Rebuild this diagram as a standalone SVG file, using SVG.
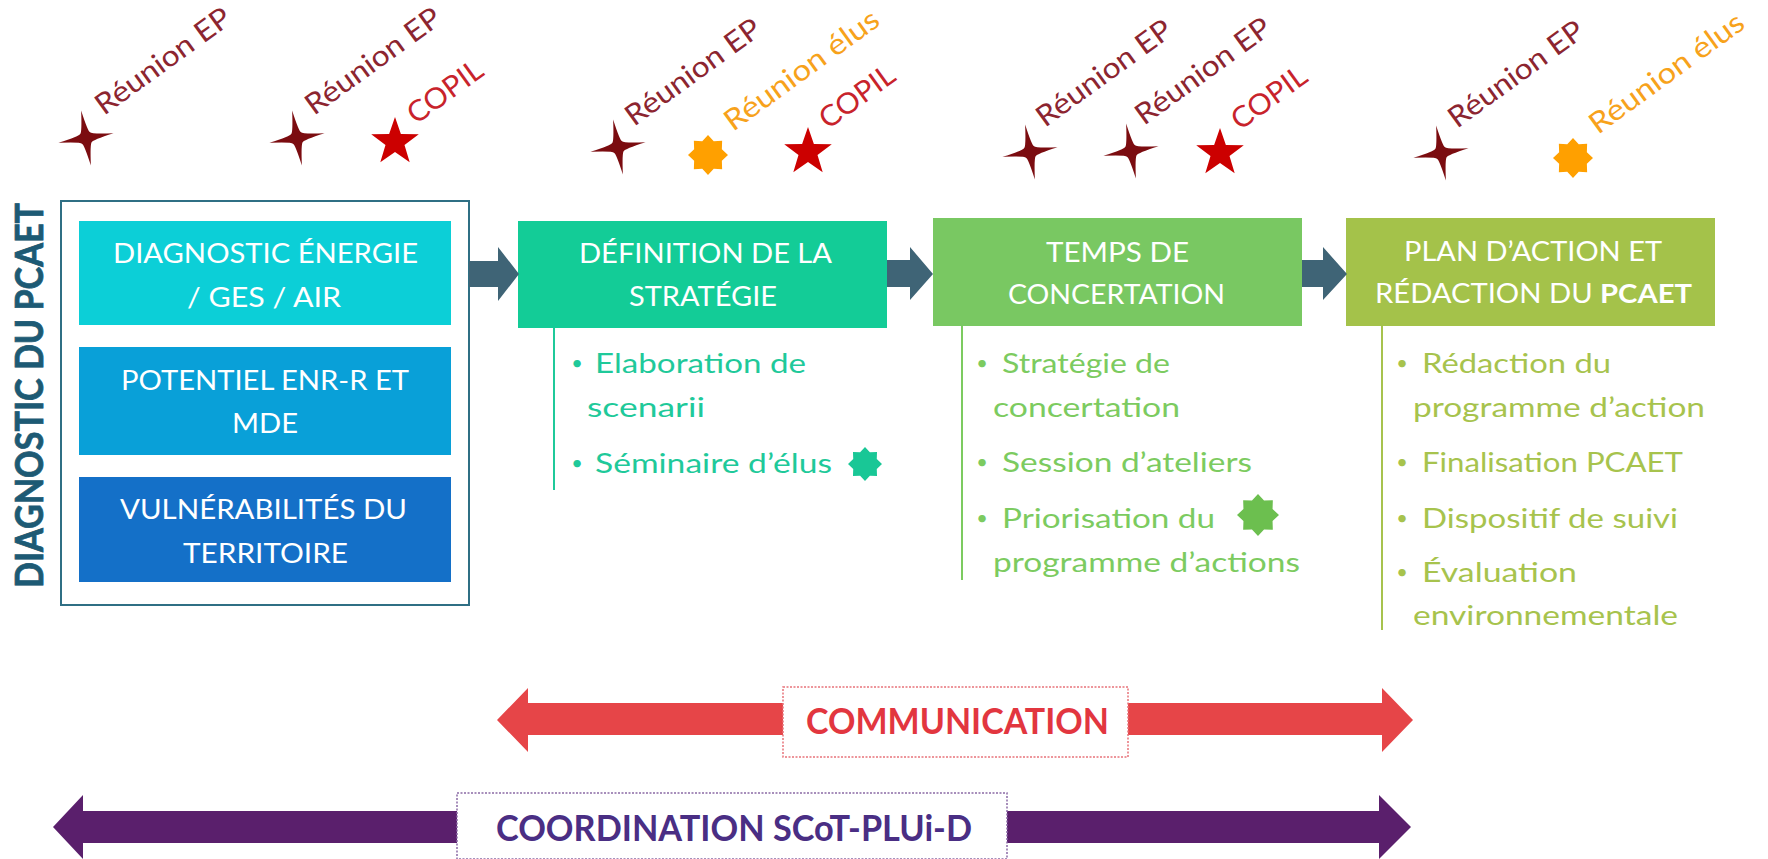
<svg xmlns="http://www.w3.org/2000/svg" width="1768" height="859" viewBox="0 0 1768 859">
<style>
text{font-family:Lato,"Open Sans","Liberation Sans",sans-serif;}
.h{font-size:27px;fill:#fff;}
.b{font-size:27px;}
.d{font-size:20px;}
.g1{fill:#1fc99a;}
.g2{fill:#7ccb60;}
.g3{fill:#a7c34d;}
.ep{font-size:29px;fill:#8c2530;}
.cp{font-size:29px;fill:#c8232b;}
.el{font-size:29px;fill:#f7a21b;}
.vl{stroke-width:2;fill:none;}
.arr{fill:#3f6476;}
</style>
<defs>
<path id="s4" d="M0,-28 Q3,-6 5,-5 Q6,-3 28,0 Q6,3 5,5 Q3,6 0,28 Q-3,6 -5,5 Q-6,3 -28,0 Q-6,-3 -5,-5 Q-3,-6 0,-28 Z" fill="#7b0c10"/>
<path id="s5" d="M0,-25 L5.88,-8.09 L23.78,-7.73 L9.51,3.09 L14.69,20.23 L0,10 L-14.69,20.23 L-9.51,3.09 L-23.78,-7.73 L-5.88,-8.09Z" fill="#cc0000"/>
<path id="s8" d="M0,-20 L5.74,-13.86 L14.14,-14.14 L13.86,-5.74 L20,0 L13.86,5.74 L14.14,14.14 L5.74,13.86 L0,20 L-5.74,13.86 L-14.14,14.14 L-13.86,5.74 L-20,0 L-13.86,-5.74 L-14.14,-14.14 L-5.74,-13.86Z"/>
</defs>
<rect width="1768" height="859" fill="#fff"/>

<g id="jalons">
<use href="#s4" transform="translate(86,138) rotate(-10)"/>
<text class="ep" transform="translate(104,116) rotate(-36)" textLength="160" lengthAdjust="spacingAndGlyphs">Réunion EP</text>
<use href="#s4" transform="translate(297,138) rotate(-10)"/>
<text class="ep" transform="translate(314,116) rotate(-36)" textLength="160" lengthAdjust="spacingAndGlyphs">Réunion EP</text>
<use href="#s5" transform="translate(395,142)"/>
<text class="cp" transform="translate(416,125) rotate(-36)" textLength="86" lengthAdjust="spacingAndGlyphs">COPIL</text>

<use href="#s4" transform="translate(618,147) rotate(-10)"/>
<text class="ep" transform="translate(634,127) rotate(-36)" textLength="160" lengthAdjust="spacingAndGlyphs">Réunion EP</text>
<use href="#s8" fill="#ffa000" transform="translate(708,155)"/>
<text class="el" transform="translate(733,132) rotate(-36)" textLength="184" lengthAdjust="spacingAndGlyphs">Réunion élus</text>
<use href="#s5" transform="translate(808,152)"/>
<text class="cp" transform="translate(828,130) rotate(-36)" textLength="86" lengthAdjust="spacingAndGlyphs">COPIL</text>

<use href="#s4" transform="translate(1030,152) rotate(-10)"/>
<text class="ep" transform="translate(1045,128) rotate(-36)" textLength="160" lengthAdjust="spacingAndGlyphs">Réunion EP</text>
<use href="#s4" transform="translate(1131,151) rotate(-10)"/>
<text class="ep" transform="translate(1144,126) rotate(-36)" textLength="160" lengthAdjust="spacingAndGlyphs">Réunion EP</text>
<use href="#s5" transform="translate(1220,153)"/>
<text class="cp" transform="translate(1240,131) rotate(-36)" textLength="86" lengthAdjust="spacingAndGlyphs">COPIL</text>

<use href="#s4" transform="translate(1441,153) rotate(-10)"/>
<text class="ep" transform="translate(1457,129) rotate(-36)" textLength="160" lengthAdjust="spacingAndGlyphs">Réunion EP</text>
<use href="#s8" fill="#ffa000" transform="translate(1573,158)"/>
<text class="el" transform="translate(1598,135) rotate(-36)" textLength="184" lengthAdjust="spacingAndGlyphs">Réunion élus</text>
</g>

<g id="diagnostic">
<rect x="61" y="201" width="408" height="404" fill="#fff" stroke="#2f6f84" stroke-width="2"/>
<text transform="translate(43,395) rotate(-90)" x="-193" y="0" font-size="39" font-weight="bold" fill="#1d5a74" stroke="#1d5a74" stroke-width="0.8" textLength="385" lengthAdjust="spacingAndGlyphs">DIAGNOSTIC DU PCAET</text>
<rect x="79" y="221" width="372" height="104" fill="#0ccfd7"/>
<text class="h" x="113" y="263" textLength="305" lengthAdjust="spacingAndGlyphs">DIAGNOSTIC ÉNERGIE</text>
<text class="h" x="187" y="307" textLength="154" lengthAdjust="spacingAndGlyphs">/ GES / AIR</text>
<rect x="79" y="347" width="372" height="108" fill="#09a0d8"/>
<text class="h" x="121" y="390" textLength="288" lengthAdjust="spacingAndGlyphs">POTENTIEL ENR-R ET</text>
<text class="h" x="232" y="433" textLength="66" lengthAdjust="spacingAndGlyphs">MDE</text>
<rect x="79" y="477" width="372" height="105" fill="#1470c8"/>
<text class="h" x="120" y="519" textLength="287" lengthAdjust="spacingAndGlyphs">VULNÉRABILITÉS DU</text>
<text class="h" x="183" y="563" textLength="165" lengthAdjust="spacingAndGlyphs">TERRITOIRE</text>
</g>

<g id="strategie">
<rect x="518" y="221" width="369" height="107" fill="#13cc97"/>
<text class="h" x="579" y="263" textLength="253" lengthAdjust="spacingAndGlyphs">DÉFINITION DE LA</text>
<text class="h" x="629" y="306" textLength="148" lengthAdjust="spacingAndGlyphs">STRATÉGIE</text>
<line class="vl" x1="554" y1="328" x2="554" y2="490" stroke="#1fc99a"/>
<text class="d g1" x="577" y="370" text-anchor="middle">•</text>
<text class="b g1" x="595" y="373" textLength="211" lengthAdjust="spacingAndGlyphs">Elaboration de</text>
<text class="b g1" x="587" y="417" textLength="118" lengthAdjust="spacingAndGlyphs">scenarii</text>
<text class="d g1" x="577" y="470" text-anchor="middle">•</text>
<text class="b g1" x="595" y="473" textLength="237" lengthAdjust="spacingAndGlyphs">Séminaire d’élus</text>
<use href="#s8" fill="#19c796" transform="translate(865,464) scale(0.85)"/>
</g>

<g id="concertation">
<rect x="933" y="218" width="369" height="108" fill="#79c862"/>
<text class="h" x="1046" y="262" textLength="143" lengthAdjust="spacingAndGlyphs">TEMPS DE</text>
<text class="h" x="1008" y="304" textLength="217" lengthAdjust="spacingAndGlyphs">CONCERTATION</text>
<line class="vl" x1="962" y1="326" x2="962" y2="580" stroke="#7ccb60"/>
<text class="d g2" x="982" y="370" text-anchor="middle">•</text>
<text class="b g2" x="1002" y="373" textLength="168" lengthAdjust="spacingAndGlyphs">Stratégie de</text>
<text class="b g2" x="993" y="417" textLength="187" lengthAdjust="spacingAndGlyphs">concertation</text>
<text class="d g2" x="982" y="469" text-anchor="middle">•</text>
<text class="b g2" x="1002" y="472" textLength="250" lengthAdjust="spacingAndGlyphs">Session d’ateliers</text>
<text class="d g2" x="982" y="525" text-anchor="middle">•</text>
<text class="b g2" x="1002" y="528" textLength="213" lengthAdjust="spacingAndGlyphs">Priorisation du</text>
<text class="b g2" x="993" y="572" textLength="307" lengthAdjust="spacingAndGlyphs">programme d’actions</text>
<use href="#s8" fill="#6cbf4f" transform="translate(1258,515) scale(1.05)"/>
</g>

<g id="plan-action">
<rect x="1346" y="218" width="369" height="108" fill="#a4c24a"/>
<text class="h" x="1404" y="261" textLength="258" lengthAdjust="spacingAndGlyphs">PLAN D’ACTION ET</text>
<text class="h" x="1375" y="303" textLength="317" lengthAdjust="spacingAndGlyphs">RÉDACTION DU <tspan font-weight="bold">PCAET</tspan></text>
<line class="vl" x1="1382" y1="326" x2="1382" y2="630" stroke="#a7c34d"/>
<text class="d g3" x="1402" y="370" text-anchor="middle">•</text>
<text class="b g3" x="1422" y="373" textLength="189" lengthAdjust="spacingAndGlyphs">Rédaction du</text>
<text class="b g3" x="1413" y="417" textLength="292" lengthAdjust="spacingAndGlyphs">programme d’action</text>
<text class="d g3" x="1402" y="469" text-anchor="middle">•</text>
<text class="b g3" x="1422" y="472" textLength="261" lengthAdjust="spacingAndGlyphs">Finalisation PCAET</text>
<text class="d g3" x="1402" y="525" text-anchor="middle">•</text>
<text class="b g3" x="1422" y="528" textLength="256" lengthAdjust="spacingAndGlyphs">Dispositif de suivi</text>
<text class="d g3" x="1402" y="579" text-anchor="middle">•</text>
<text class="b g3" x="1422" y="582" textLength="155" lengthAdjust="spacingAndGlyphs">Évaluation</text>
<text class="b g3" x="1413" y="625" textLength="265" lengthAdjust="spacingAndGlyphs">environnementale</text>
</g>

<g id="connecteurs">
<path class="arr" d="M469,261 L498,261 L498,247 L519,274 L498,301 L498,287 L469,287 Z"/>
<path class="arr" d="M887,260 L910,260 L910,247 L933,274 L910,300 L910,287 L887,287 Z"/>
<path class="arr" d="M1302,260 L1323,260 L1323,247 L1347,274 L1323,300 L1323,287 L1302,287 Z"/>
</g>

<g id="communication">
<path d="M497,720 L528,688 L528,703 L1382,703 L1382,688 L1413,720 L1382,752 L1382,735 L528,735 L528,752 Z" fill="#e64548"/>
<rect x="783" y="687" width="345" height="70" fill="#fff" stroke="#e8737a" stroke-width="1.5" stroke-dasharray="2,1.5"/>
<text x="806" y="734" font-size="37" font-weight="bold" fill="#e2363f" textLength="303" lengthAdjust="spacingAndGlyphs">COMMUNICATION</text>
</g>

<g id="coordination">
<path d="M53,827 L83,795 L83,811 L1379,811 L1379,795 L1411,827 L1379,859 L1379,843 L83,843 L83,859 Z" fill="#5a1f6c"/>
<rect x="457" y="793" width="550" height="66" fill="#fff" stroke="#8a6aa5" stroke-width="1.5" stroke-dasharray="2,1.5"/>
<text x="496" y="841" font-size="37" font-weight="bold" fill="#4a2e84" textLength="476" lengthAdjust="spacingAndGlyphs">COORDINATION SCoT-PLUi-D</text>
</g>
</svg>
